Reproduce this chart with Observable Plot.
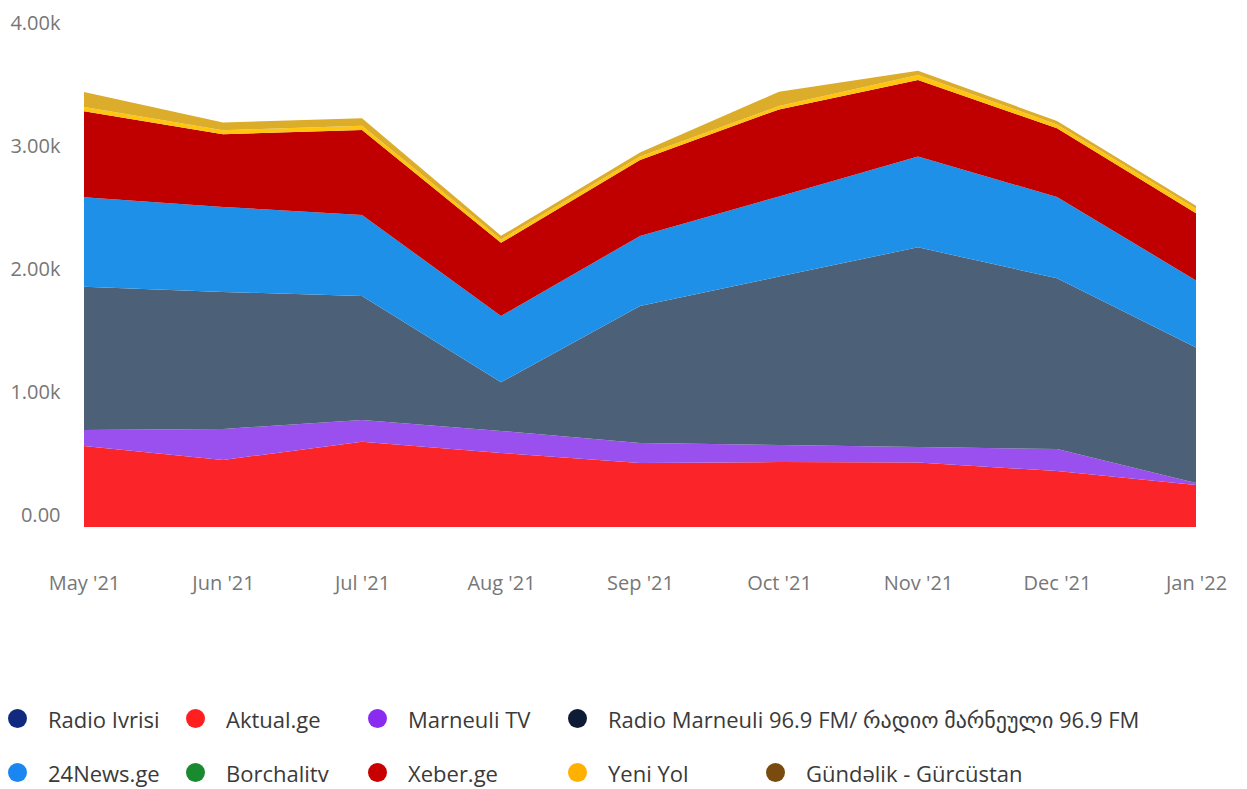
<!DOCTYPE html>
<html>
<head>
<meta charset="utf-8">
<script src="https://cdn.jsdelivr.net/npm/d3@7"></script>
<script src="https://cdn.jsdelivr.net/npm/@observablehq/plot@0.6"></script>
<style>
  html, body { margin: 0; padding: 0; background: #fff; }
  body { width: 1247px; height: 789px; overflow: hidden; font-family: "Open Sans", "DejaVu Sans", sans-serif; }
  #chart svg { display: block; }
  #legend { margin-top: 82px; font-size: 22px; line-height: 1.2; color: #3a3a3a; }
  .row { display: flex; height: 54px; align-items: center; white-space: nowrap; }
  .item { display: flex; align-items: center; flex: none; }
  .dot { width: 19px; height: 19px; border-radius: 50%; margin-left: 8px; margin-right: 21px; flex: none; box-sizing: border-box; }
</style>
</head>
<body>
<div id="chart"></div>
<div id="legend"></div>
<script>
const months = ["May '21", "Jun '21", "Jul '21", "Aug '21", "Sep '21", "Oct '21", "Nov '21", "Dec '21", "Jan '22"];
const seriesNames = ["Radio Ivrisi", "Aktual.ge", "Marneuli TV", "Radio Marneuli 96.9 FM/ რადიო მარნეული 96.9 FM", "24News.ge", "Borchalitv", "Xeber.ge", "Yeni Yol", "Gündəlik - Gürcüstan"];
const radioIvrisi   = [0, 0, 0, 0, 0, 0, 0, 0, 0];
const aktualGe      = [659, 545, 694, 602, 520, 528, 524, 455, 341];
const marneuliTV    = [130, 252, 176, 179, 163, 138, 126, 179, 16];
const radioMarneuli = [1165, 1114, 1008, 396, 1114, 1370, 1624, 1388, 1103];
const news24        = [727, 691, 659, 539, 569, 652, 738, 661, 545];
const borchalitv    = [0, 0, 0, 0, 0, 0, 0, 0, 0];
const xeberGe       = [699, 591, 691, 594, 618, 707, 622, 559, 545];
const yeniYol       = [35, 33, 35, 28, 28, 27, 41, 31, 37];
const gundelik      = [122, 62, 60, 29, 33, 116, 35, 28, 24];
const yTicks = [0, 1000, 2000, 3000, 4000];

const areaColors = ["#13287E", "#FB2428", "#9A4FEF", "#4C6178", "#1F90E8", "#1A8A30", "#C00000", "#FFC50F", "#DBAD2B"];
const legendColors = ["#102A80", "#FF1F1F", "#8A2BF2", "#0D1B36", "#1A86F2", "#1A8A30", "#C80000", "#FFB000", "#7A4B0F"];

const seriesValues = [radioIvrisi, aktualGe, marneuliTV, radioMarneuli, news24, borchalitv, xeberGe, yeniYol, gundelik];
const data = [];
seriesNames.forEach((name, si) => {
  months.forEach((m, mi) => data.push({series: name, month: m, value: seriesValues[si][mi]}));
});

const chart = Plot.plot({
  width: 1247,
  height: 610,
  marginLeft: 82,
  marginRight: 50,
  marginTop: 35,
  marginBottom: 83,
  style: {fontFamily: "'Open Sans', 'DejaVu Sans', sans-serif", fontSize: "20px", color: "#777777", background: "#fff"},
  x: {type: "point", domain: months, padding: 0, label: null},
  y: {domain: [0, 4000], label: null},
  color: {domain: seriesNames, range: areaColors},
  marks: [
    Plot.areaY(data, Plot.stackY({x: "month", y: "value", fill: "series", z: "series", order: seriesNames})),
    Plot.axisY({ticks: yTicks, tickSize: 0, tickPadding: 22, dy: -12, label: null,
      tickFormat: d => d === 0 ? "0.00" : (d / 1000).toFixed(2) + "k"}),
    Plot.axisX({tickSize: 0, tickPadding: 48, label: null})
  ]
});
document.getElementById("chart").appendChild(chart);

const rows = [[0, 1, 2, 3], [4, 5, 6, 7, 8]];
const colWidths = [178, 182, 200, 198, 300];
const legend = document.getElementById("legend");
rows.forEach(r => {
  const row = document.createElement("div");
  row.className = "row";
  r.forEach((si, ci) => {
    const item = document.createElement("div");
    item.className = "item";
    if (ci < r.length - 1) item.style.width = colWidths[ci] + "px";
    const dot = document.createElement("span");
    dot.className = "dot";
    dot.style.background = legendColors[si];
    const label = document.createElement("span");
    label.textContent = seriesNames[si];
    item.appendChild(dot);
    item.appendChild(label);
    row.appendChild(item);
  });
  legend.appendChild(row);
});
</script>
</body>
</html>
